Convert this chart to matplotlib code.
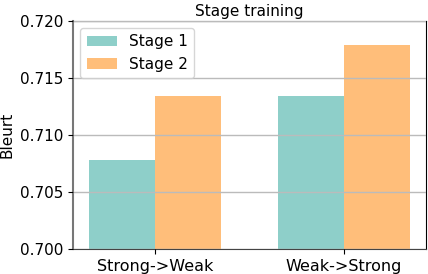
import numpy as np
import matplotlib
matplotlib.use('Agg')
import matplotlib.pyplot as plt

categories = ['Strong->Weak', 'Weak->Strong']
stage1 = [0.7078, 0.7134]
stage2 = [0.7134, 0.7179]
labels = ['Stage 1', 'Stage 2']
colors = ['#8ECFC9', '#FFBE7A']

fig, ax = plt.subplots(figsize=(4.28, 2.74), dpi=100)
x = np.arange(len(categories))
w = 0.35
ax.bar(x - w/2, stage1, w, color=colors[0], label=labels[0], zorder=2)
ax.bar(x + w/2, stage2, w, color=colors[1], label=labels[1], zorder=2)

ax.set_ylim(0.700, 0.720)
ax.set_yticks([0.700, 0.705, 0.710, 0.715, 0.720])
ax.set_xticks(x)
ax.set_xticklabels(categories, fontsize=11.5)
ax.tick_params(axis='y', labelsize=11)
ax.set_ylabel('Bleurt', fontsize=11)
ax.set_title('Stage training', fontsize=11, pad=3)
ax.yaxis.grid(True, color='#bbbbbb', lw=1, zorder=3)
ax.set_axisbelow(False)
ax.spines['left'].set_color('#777777')
ax.spines['left'].set_linewidth(1.5)
ax.spines['bottom'].set_color('#444444')
ax.legend(loc='upper left', fontsize=11)

plt.subplots_adjust(left=0.17, right=0.995, top=0.925, bottom=0.09)
plt.savefig('out.png')
